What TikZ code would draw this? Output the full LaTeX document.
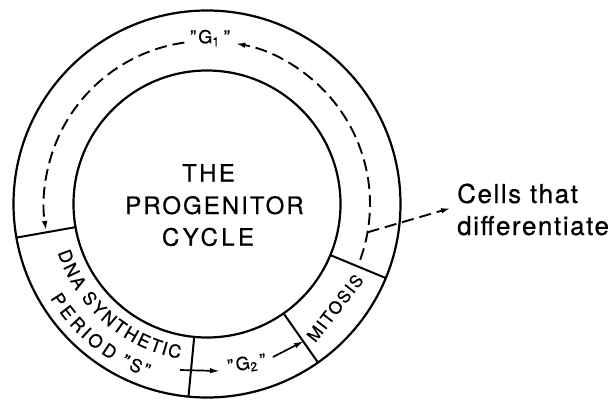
\documentclass[tikz,border=0pt]{standalone}
\usepackage{fontspec}
\setmainfont{TeX Gyre Heros}[FakeBold=0.6]
\usetikzlibrary{arrows.meta,decorations.text}
\newcommand\ringfont{\fontsize{18}{18}\selectfont}
\begin{document}
\begin{tikzpicture}[x=1pt,y=1pt,
  ring/.style={line width=2.2pt},
  divider/.style={line width=2pt},
  flow/.style={line width=1.9pt, dash pattern=on 12pt off 6pt, -{Latex[length=10pt,width=5.5pt]}},
  solidarrow/.style={line width=1.7pt, -{Latex[length=10pt,width=5.5pt]}},
  bigtxt/.style={font=\fontsize{24}{24}\selectfont\addfontfeatures{LetterSpace=#1}, inner sep=0pt, anchor=base},
  ringtxt/.style={font=\fontsize{17}{17}\selectfont\addfontfeatures{LetterSpace=10}, inner sep=0pt},
  gtxt/.style={font=\fontsize{18}{18}\selectfont\addfontfeatures{LetterSpace=12}, inner sep=0pt},
  cellstxt/.style={font=\fontsize{26}{26}\selectfont\addfontfeatures{LetterSpace=6}, inner sep=0pt, anchor=base west},
  arctext/.style={decorate, decoration={text effects along path, text={#1},
      text effects/.cd, text along path, fit text to path, characters={font=\ringfont}}}
]
\useasboundingbox (0,0) rectangle (613,400);
\begin{scope}[shift={(207,196)}]
  \draw[ring] (0,0) circle[radius=193.5];
  \draw[ring] (0,0) circle[radius=133.5];
  \foreach \a in {190,264.5,305,337.5}
    \draw[divider] (\a:133.5) -- (\a:193.5);
  \draw[flow] (-20:163) arc[start angle=-20, end angle=80, radius=163];
  \draw[flow] (98:163) arc[start angle=98, end angle=189.5, radius=163];
  \coordinate (bp) at (-10:163);
  \path[arctext={DNA SYNTHETIC}] (198:157) arc[start angle=198, end angle=260, radius=157];
  \path[arctext={PERIOD "S"}] (211:183) arc[start angle=211, end angle=251, radius=183];
\end{scope}

\node[bigtxt=10] (the) at (208.5,218.3) {THE};
\node[bigtxt=8.5] (prog) at (214.5,186) {PROGENITOR};
\node[bigtxt=14] (cyc) at (208,154.3) {CYCLE};

\node[gtxt] (g1) at (210,362) {"G\textsubscript{1}\hspace{4pt}"};
\node[gtxt, rotate=10] (g2) at (247,36) {"G\textsubscript{2}\hspace{3pt}"};
\node[ringtxt, rotate=52] (mit) at (335,92) {MITOSIS};

\node[cellstxt] (cells1) at (457,197) {Cells that};
\node[cellstxt] (cells2) at (457,165) {differentiate};

\coordinate (celltip) at (451,192);
\draw[flow] (bp) -- (celltip);

\coordinate (sa) at (180,30);
\coordinate (sb) at (220,29);
\draw[solidarrow] (sa) -- (sb);

\coordinate (ga) at (273,43);
\coordinate (gb) at (304,59);
\draw[solidarrow] (ga) -- (gb);
\end{tikzpicture}
\end{document}
